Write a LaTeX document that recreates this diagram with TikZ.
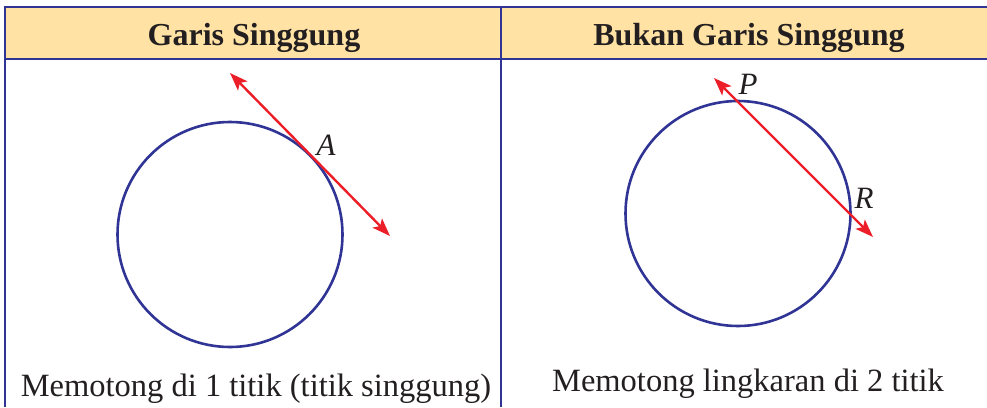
\documentclass[tikz,border=0pt]{standalone}
\usepackage{fontspec}
\setmainfont{Liberation Serif}
\usepackage{tikz}
\usetikzlibrary{arrows.meta, positioning, calc}
\definecolor{tabblue}{RGB}{48, 52, 148}
\definecolor{tabhead}{RGB}{255, 226, 164}
\definecolor{lnred}{RGB}{236, 30, 40}
\definecolor{txtdark}{RGB}{35, 31, 32}

\begin{document}
\begin{tikzpicture}[
  x=1pt, y=-1pt,
  grid/.style={draw=tabblue, line width=2.7pt},
  head/.style={font=\fontsize{32}{36}\selectfont\bfseries, text=txtdark, inner sep=0pt, anchor=base},
  circ/.style={circle, draw=tabblue, line width=2.6pt, minimum size=225pt, inner sep=0pt},
  arrow/.style={{Stealth[length=18pt, width=13pt, inset=4pt]}-{Stealth[length=18pt, width=13pt, inset=4pt]},
                draw=lnred, fill=lnred, line width=2.4pt},
  pt/.style={font=\fontsize{31}{34}\selectfont\itshape, text=txtdark, inner sep=0pt, anchor=base},
  note/.style={font=\fontsize{32.5}{36}\selectfont, text=txtdark, inner sep=0pt, anchor=base},
]
  \useasboundingbox (0,0) rectangle (987,407);

  % Table frame
  \fill[tabhead] (5,7) rectangle (987,59);
  \draw[grid] (5,7) -- (987,7);
  \draw[grid] (5,59) -- (987,59);
  \draw[grid] (5,5.6) -- (5,407);
  \draw[grid] (501,5.6) -- (501,407);

  % Headers
  \node[head] (h1) at (254,45) {Garis Singgung};
  \node[head] (h2) at (749,45) {Bukan Garis Singgung};

  % Left column: tangent line
  \node[circ] (c1) at (230,234.5) {};
  \coordinate (t1) at (230,73);
  \coordinate (t2) at (390,236);
  \draw[arrow] (t1) -- (t2);
  \node[pt] (a) at (326,155) {A};
  \node[note] (n1) at (256,396) {Memotong di 1 titik (titik singgung)};

  % Right column: secant line
  \node[circ] (c2) at (738,213.5) {};
  \coordinate (s1) at (714,78);
  \coordinate (s2) at (873,237);
  \draw[arrow] (s1) -- (s2);
  \node[pt] (p) at (748,94) {P};
  \node[pt] (r) at (864,208) {R};
  \node[note] (n2) at (748,391) {Memotong lingkaran di 2 titik};
\end{tikzpicture}
\end{document}
